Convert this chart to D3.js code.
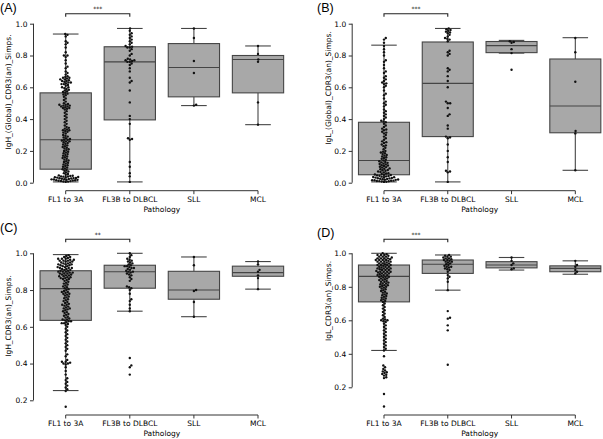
<!DOCTYPE html>
<html><head><meta charset="utf-8">
<script src="https://cdn.jsdelivr.net/npm/d3@7"></script>
<style>
html,body{margin:0;padding:0;background:#fff;}
svg{display:block;}
text{font-family:"DejaVu Sans",sans-serif;fill:#000;}
</style></head>
<body>
<svg id="chart" width="603" height="439"></svg>
<script>
// ---------------- DATA ----------------
const categories = ["FL1 to 3A", "FL3B to DLBCL", "SLL", "MCL"];
const panelLabels = ["(A)", "(B)", "(C)", "(D)"];
const yLabels = ["IgH_(Global)_CDR3(an)_Simps.", "IgL_(Global)_CDR3(an)_Simps.", "IgH_CDR3(an)_Simps.", "IgL_CDR3(an)_Simps."];
const xLabel = "Pathology";
const sigLabels = ["***", "***", "**", "***"];
const yTicksAB = [0, 0.2, 0.4, 0.6, 0.8, 1.0];
const yTicksCD = [0.2, 0.4, 0.6, 0.8, 1.0];

// box stats per category: [whiskerLow, Q1, median, Q3, whiskerHigh]
const boxA = [[0.005,0.085,0.27,0.565,0.935],[0.005,0.395,0.76,0.855,0.97],[0.485,0.54,0.725,0.875,0.97],[0.365,0.565,0.775,0.80,0.86]];
const boxB = [[0.005,0.05,0.14,0.38,0.865],[0.005,0.29,0.625,0.885,0.97],[0.815,0.818,0.862,0.888,0.895],[0.078,0.314,0.482,0.778,0.912]];
const boxC = [[0.253,0.635,0.808,0.905,0.993],[0.685,0.81,0.90,0.935,1.0],[0.655,0.75,0.80,0.902,0.98],[0.805,0.875,0.895,0.93,0.955]];
const boxD = [[0.42,0.71,0.862,0.93,1.0],[0.78,0.88,0.935,0.96,0.99],[0.90,0.913,0.93,0.95,0.975],[0.875,0.89,0.91,0.925,0.955]];

// observations
const A_FL1 = [0.935,0.93,0.92,0.89,0.88,0.87,0.85,0.82,0.80,0.80,0.79,0.77,0.75,0.73,0.72,0.70,0.69,0.68,
 0.67,0.665,0.66,0.66,0.655,0.65,0.65,0.645,0.64,0.64,0.635,0.63,0.63,0.625,0.62,0.62,0.615,0.61,0.60,0.60,0.595,0.59,0.585,0.58,0.575,0.57,0.565,0.56,0.555,0.55,
 0.54,0.53,0.52,0.51,0.50,0.495,0.49,0.49,0.485,0.485,0.48,0.48,0.475,0.47,0.47,0.465,0.46,
 0.45,0.44,0.43,0.42,0.41,0.40,0.39,0.38,0.37,0.36,0.35,0.345,0.34,0.335,0.33,0.33,0.325,0.32,0.315,0.31,0.30,
 0.295,0.29,0.285,0.28,0.275,0.27,0.27,0.265,0.26,0.26,0.255,0.25,0.245,0.24,0.235,0.23,0.225,0.22,0.215,0.21,0.205,0.20,
 0.195,0.19,0.185,0.18,0.175,0.17,0.165,0.16,0.155,0.15,0.145,0.14,0.135,0.13,0.125,0.12,0.115,0.11,0.105,0.10,
 0.095,0.09,0.085,0.08,0.075,0.07,0.065,0.06,
 0.055,0.05,0.046,0.044,0.042,0.04,0.039,0.038,0.036,0.035,0.034,0.032,0.03,0.029,0.028,0.026,0.025,0.024,0.022,0.021,0.02,0.019,0.018,0.016,0.015,0.014,0.012,0.011,0.01,0.008,0.007,0.005];
const A_FL3B = [0.97,0.955,0.94,0.93,0.92,0.91,0.90,0.89,0.88,0.87,0.86,0.855,0.85,0.85,0.84,0.83,0.81,0.80,0.78,0.775,0.77,0.77,0.765,0.76,0.76,0.75,0.74,0.72,0.70,0.66,0.64,0.63,0.58,0.505,0.42,0.40,0.37,0.28,0.275,0.27,0.13,0.10,0.06,0.04,0.005];
const A_SLL = [0.97,0.91,0.765,0.69,0.49,0.485];
const A_MCL = [0.86,0.81,0.775,0.76,0.505,0.365];

const B_FL1 = [0.91,0.90,0.88,0.86,0.84,0.82,0.80,0.77,0.76,0.74,0.72,0.70,0.69,0.67,0.66,0.65,0.64,0.63,0.625,0.62,0.61,0.60,0.58,0.56,0.55,0.53,0.51,0.50,0.49,0.48,0.46,0.45,0.44,0.43,0.42,0.41,0.40,0.39,0.385,0.38,0.37,0.36,0.35,0.34,0.335,0.33,0.32,0.315,0.31,0.30,0.29,0.28,0.27,0.26,0.255,0.25,0.24,0.235,0.23,0.22,0.21,0.20,0.195,0.19,0.185,0.18,0.175,0.17,0.165,0.16,0.155,0.15,0.145,0.14,0.135,0.13,0.128,0.125,0.12,0.118,0.115,0.11,0.108,0.105,0.10,0.098,0.095,0.09,0.088,0.085,0.08,0.078,0.075,0.07,0.068,0.065,0.06,0.058,0.055,0.052,0.05,0.048,0.046,0.044,0.042,0.04,0.038,0.036,0.035,0.034,0.032,0.03,0.028,0.027,0.025,0.024,0.022,0.02,0.019,0.018,0.016,0.015,0.013,0.012,0.011,0.01,0.009,0.008,0.006,0.005];
const B_FL3B = [0.97,0.965,0.96,0.955,0.95,0.945,0.94,0.93,0.92,0.91,0.905,0.90,0.89,0.83,0.82,0.81,0.80,0.72,0.71,0.70,0.67,0.64,0.60,0.51,0.50,0.50,0.47,0.43,0.42,0.36,0.34,0.29,0.285,0.28,0.24,0.20,0.16,0.13,0.075,0.07,0.065,0.005];
const B_SLL = [0.89,0.885,0.88,0.84,0.815,0.71];
const B_MCL = [0.91,0.82,0.635,0.325,0.31,0.078];

const C_FL1 = [0.99,0.985,0.98,0.975,0.97,0.97,0.965,0.96,0.96,0.955,0.95,0.95,0.945,0.94,0.94,0.935,0.93,0.93,0.925,0.92,0.92,0.915,0.91,0.91,0.905,0.90,0.90,0.895,0.89,0.89,0.885,0.88,0.88,0.875,0.87,0.87,0.865,0.86,0.86,0.855,0.85,0.845,0.84,0.835,0.83,0.825,0.82,0.815,0.81,0.805,0.80,0.795,0.79,0.785,0.78,0.775,0.77,0.765,0.76,0.755,0.75,0.745,0.74,0.735,0.73,0.725,0.72,0.715,0.71,0.705,0.70,0.695,0.69,0.685,0.68,0.675,0.67,0.665,0.66,0.655,0.65,0.645,0.64,0.635,0.63,0.625,0.62,0.615,0.61,0.60,0.59,0.58,0.57,0.56,0.55,0.54,0.53,0.52,0.51,0.50,0.49,0.48,0.47,0.45,0.44,0.42,0.41,0.41,0.405,0.40,0.40,0.395,0.38,0.36,0.34,0.32,0.31,0.30,0.29,0.28,0.27,0.26,0.25,0.165,
 0.97,0.965,0.955,0.945,0.935,0.925,0.915,0.905,0.895,0.885,0.875,0.865,0.89,0.90,0.92,0.94,0.96,0.98,0.78,0.79,0.72,0.70,0.64,0.63,0.62];
const C_FL3B = [1.0,0.99,0.98,0.97,0.965,0.96,0.955,0.95,0.945,0.94,0.935,0.93,0.93,0.925,0.92,0.92,0.915,0.91,0.905,0.90,0.90,0.895,0.89,0.885,0.88,0.87,0.86,0.85,0.82,0.815,0.81,0.80,0.78,0.75,0.74,0.72,0.70,0.685,0.43,0.39,0.38,0.34];
const C_SLL = [0.98,0.935,0.80,0.795,0.735,0.655];
const C_MCL = [0.955,0.94,0.91,0.90,0.88,0.865,0.805];

const D_FL1 = [1.0,0.995,0.99,0.99,0.985,0.98,0.98,0.975,0.97,0.97,0.965,0.96,0.96,0.955,0.95,0.95,0.945,0.94,0.94,0.935,0.93,0.93,0.925,0.92,0.92,0.915,0.91,0.91,0.905,0.90,0.90,0.895,0.89,0.89,0.885,0.88,0.88,0.875,0.87,0.87,0.865,0.86,0.86,0.855,0.85,0.85,0.845,0.84,0.84,0.835,0.83,0.83,0.825,0.82,0.82,0.815,0.81,0.81,0.805,0.80,0.80,0.795,0.79,0.785,0.78,0.775,0.77,0.765,0.76,0.755,0.75,0.745,0.74,0.735,0.73,0.725,0.72,0.715,0.71,0.70,0.69,0.68,0.67,0.66,0.65,0.64,0.63,0.62,0.61,0.605,0.60,0.60,0.595,0.59,0.58,0.57,0.56,0.55,0.54,0.53,0.52,0.51,0.50,0.49,0.48,0.47,0.46,0.45,0.44,0.43,0.42,0.385,0.33,0.32,0.31,0.30,0.295,0.29,0.285,0.28,0.275,0.27,0.26,0.255,0.16,0.085,
 0.99,0.98,0.97,0.96,0.95,0.94,0.93,0.92,0.91,0.90,0.89,0.88,0.97,0.96,0.95,0.93,0.91,0.89,0.87,0.86];
const D_FL3B = [0.99,0.985,0.98,0.98,0.975,0.97,0.97,0.965,0.96,0.96,0.955,0.95,0.95,0.945,0.94,0.935,0.93,0.925,0.92,0.92,0.915,0.91,0.905,0.90,0.89,0.87,0.86,0.85,0.83,0.78,0.655,0.615,0.61,0.57,0.54,0.335];
const D_SLL = [0.975,0.955,0.94,0.93,0.91,0.905];
const D_MCL = [0.955,0.93,0.92,0.90,0.89,0.88];

// ---------------- LAYOUT ----------------
const panels = [
  {label:panelLabels[0], titleX:0, titleY:12, yLabel:yLabels[0], yLabX:8, yLabY:92, box:boxA, obs:[A_FL1,A_FL3B,A_SLL,A_MCL],
   yDom:[0,1], yRange:[182.7,23.7], ticks:yTicksAB, axisX:33.5, xRange:[33.65,290.05], axisY:190.7, xLabY:212, sigY:13.7, sig:sigLabels[0]},
  {label:panelLabels[1], titleX:317, titleY:12, yLabel:yLabels[1], yLabX:328, yLabY:88, box:boxB, obs:[B_FL1,B_FL3B,B_SLL,B_MCL],
   yDom:[0,1], yRange:[182.7,23.7], ticks:yTicksAB, axisX:352.2, xRange:[352.1,607.2], axisY:190.7, xLabY:212, sigY:13.7, sig:sigLabels[1]},
  {label:panelLabels[2], titleX:0, titleY:232, yLabel:yLabels[2], yLabX:8, yLabY:316, box:boxC, obs:[C_FL1,C_FL3B,C_SLL,C_MCL],
   yDom:[0.2,1], yRange:[400.3,253.3], ticks:yTicksCD, axisX:33.5, xRange:[33.65,290.05], axisY:415, xLabY:436, sigY:239.3, sig:sigLabels[2]},
  {label:panelLabels[3], titleX:317, titleY:237, yLabel:yLabels[3], yLabX:328, yLabY:301, box:boxD, obs:[D_FL1,D_FL3B,D_SLL,D_MCL],
   yDom:[0.2,1], yRange:[387.3,253.3], ticks:yTicksCD, axisX:352.2, xRange:[352.1,607.2], axisY:415, xLabY:436, sigY:239.3, sig:sigLabels[3]}
];

const FONT = 7.5;
const boxFill = "#a8a8a8", edge = "#454545", lw = 1.1;
const R = 1.2;

const svg = d3.select("#chart");

function swarm(values, cx, y, r) {
  const d = 2 * r;
  const pts = values.map(v => ({v, y: y(v)})).sort((a, b) => a.v - b.v);
  const placed = [];
  pts.forEach(p => {
    const near = placed.filter(q => Math.abs(q.y - p.y) < d);
    const cands = [0];
    near.forEach(q => {
      const dx = Math.sqrt(Math.max(0, d * d - (q.y - p.y) ** 2));
      cands.push(q.x + dx, q.x - dx);
    });
    cands.sort((a, b) => Math.abs(a) - Math.abs(b));
    for (const c of cands) {
      if (near.every(q => (q.x - c) ** 2 + (q.y - p.y) ** 2 >= d * d - 1e-6)) { p.x = c; break; }
    }
    placed.push(p);
  });
  return placed.map(p => ({x: cx + p.x, y: p.y}));
}

panels.forEach(P => {
  const g = svg.append("g");
  const y = d3.scaleLinear().domain(P.yDom).range(P.yRange);
  const x = d3.scaleBand().domain(categories).range(P.xRange).padding(0);
  const bw = x.bandwidth() * 0.8;
  const cx = c => x(c) + x.bandwidth() / 2;

  // boxes
  categories.forEach((c, i) => {
    const [lo, q1, med, q3, hi] = P.box[i];
    const gc = g.append("g");
    gc.append("line").attr("x1", cx(c)).attr("x2", cx(c)).attr("y1", y(q3)).attr("y2", y(hi)).attr("stroke", edge).attr("stroke-width", lw);
    gc.append("line").attr("x1", cx(c)).attr("x2", cx(c)).attr("y1", y(q1)).attr("y2", y(lo)).attr("stroke", edge).attr("stroke-width", lw);
    gc.append("line").attr("x1", cx(c) - bw / 4).attr("x2", cx(c) + bw / 4).attr("y1", y(hi)).attr("y2", y(hi)).attr("stroke", edge).attr("stroke-width", lw);
    gc.append("line").attr("x1", cx(c) - bw / 4).attr("x2", cx(c) + bw / 4).attr("y1", y(lo)).attr("y2", y(lo)).attr("stroke", edge).attr("stroke-width", lw);
    gc.append("rect").attr("x", cx(c) - bw / 2).attr("width", bw).attr("y", y(q3)).attr("height", y(q1) - y(q3))
      .attr("fill", boxFill).attr("stroke", edge).attr("stroke-width", lw);
    gc.append("line").attr("x1", cx(c) - bw / 2).attr("x2", cx(c) + bw / 2).attr("y1", y(med)).attr("y2", y(med)).attr("stroke", edge).attr("stroke-width", lw);
  });

  // swarm points
  categories.forEach((c, i) => {
    const pts = swarm(P.obs[i], cx(c), y, R);
    g.append("g").selectAll("circle").data(pts).join("circle")
      .attr("cx", d => d.x).attr("cy", d => d.y).attr("r", R).attr("fill", "#111");
  });

  // y axis (trimmed spine)
  const ya = g.append("g").attr("transform", `translate(${P.axisX},0)`)
    .call(d3.axisLeft(y).tickValues(P.ticks).tickFormat(d3.format(".1f")).tickSize(3.5).tickPadding(2.5));
  ya.select(".domain").remove();
  ya.append("line").attr("x1", 0).attr("x2", 0).attr("y1", y(d3.min(P.ticks))).attr("y2", y(d3.max(P.ticks))).attr("stroke", "#333").attr("stroke-width", 1);
  ya.selectAll(".tick line").attr("stroke", "#333");
  ya.selectAll(".tick text").style("font-family", "DejaVu Sans").style("font-size", FONT + "px").attr("fill", "#000");

  // x axis (trimmed spine)
  const xa = g.append("g").attr("transform", `translate(0,${P.axisY})`)
    .call(d3.axisBottom(x).tickSize(3.5).tickPadding(2.5));
  xa.select(".domain").remove();
  xa.append("line").attr("x1", cx(categories[0])).attr("x2", cx(categories[3])).attr("y1", 0).attr("y2", 0).attr("stroke", "#333").attr("stroke-width", 1);
  xa.selectAll(".tick line").attr("stroke", "#333");
  xa.selectAll(".tick text").style("font-family", "DejaVu Sans").style("font-size", FONT + "px").attr("fill", "#000");

  // axis labels
  g.append("text").attr("x", (cx(categories[0]) + cx(categories[3])) / 2).attr("y", P.xLabY)
    .attr("text-anchor", "middle").style("font-size", FONT + "px").text(xLabel);
  g.append("text").attr("transform", `translate(${P.yLabX},${P.yLabY}) rotate(-90)`)
    .attr("text-anchor", "middle").attr("dy", "0.35em").style("font-size", FONT + "px").text(P.yLabel);

  // panel title
  g.append("text").attr("x", P.titleX).attr("y", P.titleY).style("font-family", "Liberation Sans, Arial, sans-serif")
    .style("font-size", "12.5px").text(P.label);

  // significance bracket
  const x0 = cx(categories[0]), x1 = cx(categories[1]);
  g.append("path").attr("d", `M${x0},${P.sigY + 3}V${P.sigY}H${x1}V${P.sigY + 3}`)
    .attr("fill", "none").attr("stroke", "#222").attr("stroke-width", 1.1);
  g.append("text").attr("x", (x0 + x1) / 2).attr("y", P.sigY - 2.5).attr("text-anchor", "middle")
    .style("font-size", "6px").text(P.sig);
});
</script>
</body></html>
